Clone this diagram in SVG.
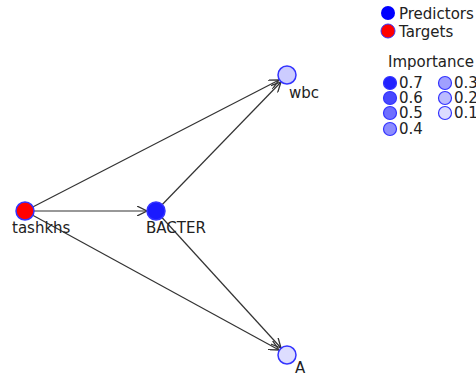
<svg xmlns="http://www.w3.org/2000/svg" width="476" height="376" viewBox="0 0 476 376">
<defs>
<style>
text{font-family:"DejaVu Sans",Verdana,sans-serif;font-size:15px;fill:#222}
.edge{stroke:#333;stroke-width:1.2;fill:none;marker-end:url(#arr)}
.node{stroke:#3333ff;stroke-width:1.5}
</style>
<marker id="arr" viewBox="0 0 10 10" refX="10" refY="5" markerWidth="10" markerHeight="10" markerUnits="userSpaceOnUse" orient="auto">
<path d="M0,0 L10,5 L0,10" fill="none" stroke="#333" stroke-width="1.3"/>
</marker>
</defs>
<rect width="476" height="376" fill="#fff"/>
<g id="connectors">
<line class="edge" x1="25" y1="211" x2="279" y2="80"/>
<line class="edge" x1="25" y1="211" x2="147" y2="211"/>
<line class="edge" x1="25" y1="211" x2="279" y2="350"/>
<line class="edge" x1="156" y1="211" x2="281" y2="82"/>
<line class="edge" x1="156" y1="211" x2="281" y2="348"/>
</g>
<g id="tashkhs"><circle class="node" cx="25" cy="211" r="9" fill="#ff0000"/><text x="12" y="233">tashkhs</text></g>
<g id="BACTER"><circle class="node" cx="156" cy="211" r="9" fill="#1a1aff"/><text x="146" y="233">BACTER</text></g>
<g id="wbc"><circle class="node" cx="287" cy="75" r="9" fill="#ccccff"/><text x="289" y="98">wbc</text></g>
<g id="A"><circle class="node" cx="287" cy="355" r="9" fill="#ddddff"/><text x="295" y="373">A</text></g>
<g id="legend">
<circle cx="388" cy="13" r="7" fill="#0000ff"/><text x="399" y="19">Predictors</text>
<circle cx="388" cy="31" r="7" fill="#ff0000" stroke="#3333ff"/><text x="399" y="37">Targets</text>
<text x="388" y="67">Importance</text>
<g stroke="#3333ff" stroke-width="1.2">
<circle cx="390" cy="83" r="6.5" fill="#2222ff"/>
<circle cx="390" cy="98" r="6.5" fill="#4848ff"/>
<circle cx="390" cy="113" r="6.5" fill="#6e6eff"/>
<circle cx="390" cy="129" r="6.5" fill="#8c8cff"/>
<circle cx="445" cy="83" r="6.5" fill="#a0a0ff"/>
<circle cx="445" cy="98" r="6.5" fill="#bcbcff"/>
<circle cx="445" cy="113" r="6.5" fill="#dcdcff"/>
</g>
<text x="399" y="88">0.7</text><text x="399" y="103">0.6</text><text x="399" y="118">0.5</text><text x="399" y="134">0.4</text>
<text x="454" y="88">0.3</text><text x="454" y="103">0.2</text><text x="454" y="118">0.1</text>
</g>
</svg>
